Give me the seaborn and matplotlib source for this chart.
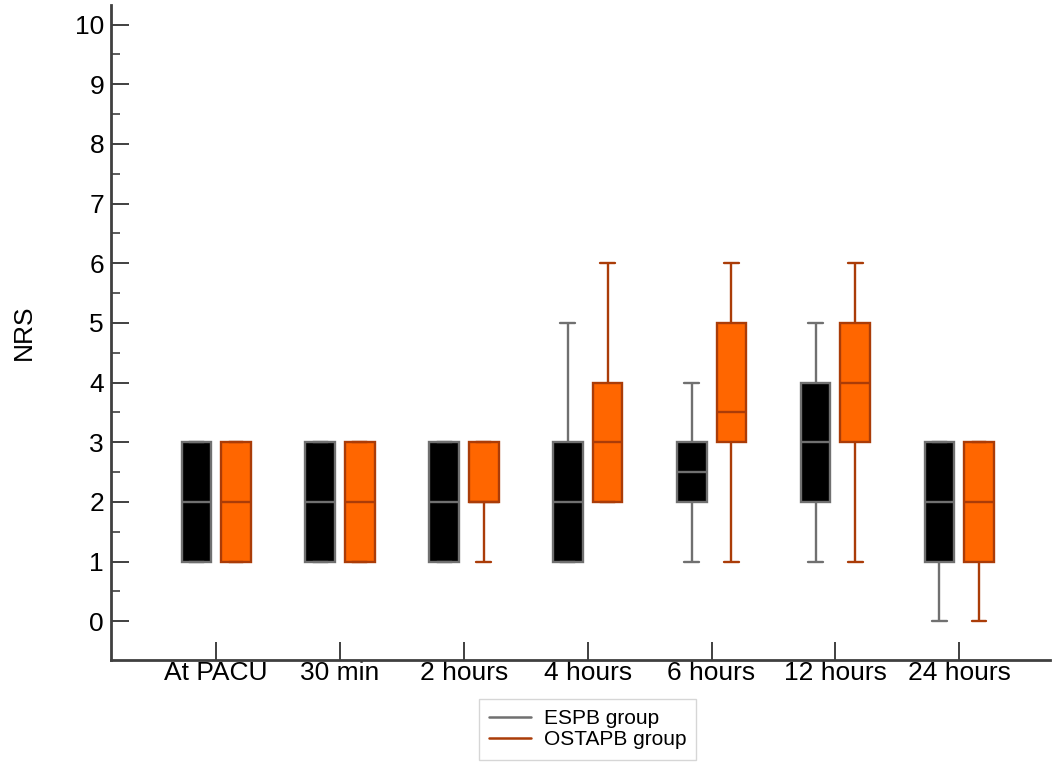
import pandas as pd
import numpy as np
import matplotlib.pyplot as plt
import seaborn as sns
from matplotlib.lines import Line2D
from matplotlib.ticker import MultipleLocator, FixedLocator

sns.set_style('white')
plt.rcParams['font.family'] = ['Liberation Sans', 'DejaVu Sans']
plt.rcParams['text.color'] = 'black'
plt.rcParams['axes.labelcolor'] = 'black'
plt.rcParams['xtick.color'] = 'black'
plt.rcParams['ytick.color'] = 'black'

# 시점
times = ['At PACU', '30 min', '2 hours', '4 hours', '6 hours', '12 hours', '24 hours']

# ESPB group 다섯 수치 요약 (min, Q1, median, Q3, max)
espb_min = [1, 1, 1, 1, 1, 1, 0]
espb_q1 = [1, 1, 1, 1, 2, 2, 1]
espb_med = [2, 2, 2, 2, 2.5, 3, 2]
espb_q3 = [3, 3, 3, 3, 3, 4, 3]
espb_max = [3, 3, 3, 5, 4, 5, 3]

# OSTAPB group
ostapb_min = [1, 1, 1, 2, 1, 1, 0]
ostapb_q1 = [1, 1, 2, 2, 3, 3, 1]
ostapb_med = [2, 2, 2, 3, 3.5, 4, 2]
ostapb_q3 = [3, 3, 3, 4, 5, 5, 3]
ostapb_max = [3, 3, 3, 6, 6, 6, 3]

groups = ['ESPB', 'OSTAPB']
fill_colors = {'ESPB': '#000000', 'OSTAPB': '#ff6600'}
edge_colors = {'ESPB': '#707070', 'OSTAPB': '#aa3c08'}
AXIS_COLOR = '#404040'


def build_df():
    rows = []
    summaries = {
        'ESPB': [espb_min, espb_q1, espb_med, espb_q3, espb_max],
        'OSTAPB': [ostapb_min, ostapb_q1, ostapb_med, ostapb_q3, ostapb_max],
    }
    for g, stats in summaries.items():
        for i, t in enumerate(times):
            for s in stats:
                rows.append({'time': t, 'group': g, 'NRS': s[i]})
    return pd.DataFrame(rows)


df = build_df()

fig = plt.figure(figsize=(10.57, 7.67), dpi=100)
ax = fig.add_axes([0.105, 0.1395, 0.888, 0.854])

sns.boxplot(data=df, x='time', y='NRS', hue='group', order=times, hue_order=groups,
            palette=fill_colors, saturation=1, width=0.64, gap=0.25, whis=10,
            linewidth=1.7, showfliers=False, legend=False, ax=ax)

# 그룹별 테두리 색
for cont, g in zip(ax.containers, groups):
    c = edge_colors[g]
    for b in cont.boxes:
        b.set_edgecolor(c)
    for art in list(cont.medians) + list(cont.whiskers) + list(cont.caps):
        art.set_color(c)

ax.set_xlim(-0.85, 6.73)
ax.set_ylim(-0.65, 10.33)
ax.yaxis.set_major_locator(MultipleLocator(1))
ax.yaxis.set_minor_locator(FixedLocator(np.arange(0.5, 10, 1)))
ax.set_xlabel('')
ax.set_ylabel('NRS', fontsize=19, labelpad=28)

for side in ['top', 'right']:
    ax.spines[side].set_visible(False)
for side in ['left', 'bottom']:
    ax.spines[side].set_color(AXIS_COLOR)
    ax.spines[side].set_linewidth(2)

ax.tick_params(axis='y', which='major', direction='in', length=13, width=1.4,
               color=AXIS_COLOR, labelsize=19, pad=5, left=True)
ax.tick_params(axis='y', which='minor', direction='in', length=6.5, width=1.2,
               color=AXIS_COLOR, left=True)
ax.tick_params(axis='x', which='major', direction='in', length=13, width=1.4,
               color=AXIS_COLOR, labelsize=19, pad=1, bottom=True)

handles = [Line2D([0], [0], color=edge_colors[g], lw=1.8) for g in groups]
fig.legend(handles, ['ESPB group', 'OSTAPB group'], loc='center',
           bbox_to_anchor=(0.556, 0.049), fontsize=15, frameon=True,
           fancybox=False, edgecolor='#cccccc', handlelength=2.0,
           borderpad=0.5, labelspacing=0.1, handletextpad=0.6)

plt.savefig('out.png', dpi=100)
